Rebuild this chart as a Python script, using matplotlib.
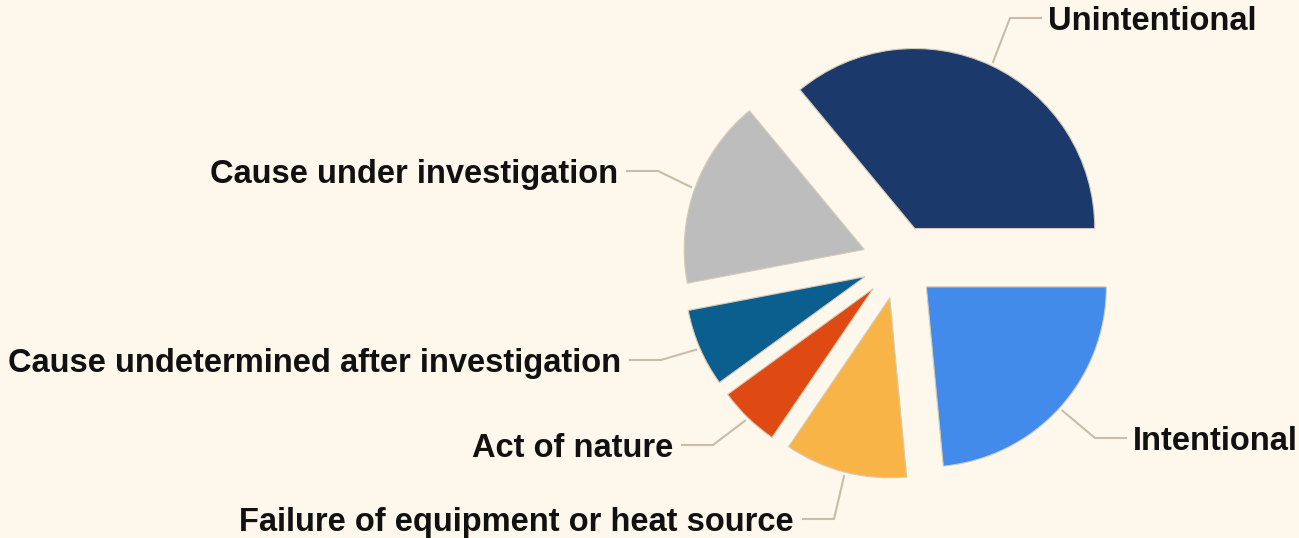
import numpy as np
import matplotlib.pyplot as plt

# === Data ===
causes = ["Unintentional", "Cause under investigation",
          "Cause undetermined after investigation", "Act of nature",
          "Failure of equipment or heat source", "Intentional"]
shares = [36.0, 17.0, 7.0, 5.5, 11.0, 23.5]
colors = ["#1b3a6b", "#bdbdbd", "#0b5f8f", "#df4a12", "#f8b447", "#428beb"]

# label layout (pixel coords, y measured from top), alignment
label_pos = [(1048, 30, "left"), (618, 183, "right"), (621, 372, "right"),
             (673, 457, "right"), (794, 531, "right"), (1133, 450, "left")]

bg = "#fdf7ec"
line_col = "#c9bca8"
W, H = 1299, 538
cx, cy, r, expl = 899, H - 262, 180, 37

plt.rcParams['font.family'] = ['Liberation Sans', 'DejaVu Sans']

fig = plt.figure(figsize=(W / 100, H / 100), dpi=100, facecolor=bg)
ax = fig.add_axes([0, 0, 1, 1])
ax.set_facecolor(bg)

ax.pie(shares, colors=colors, startangle=0, counterclock=True,
       center=(cx, cy), radius=r, explode=[expl] * len(shares),
       wedgeprops=dict(edgecolor="#d6cab6", linewidth=0.8))
ax.set_xlim(0, W)
ax.set_ylim(0, H)
ax.set_aspect("equal")
ax.set_axis_off()

# === Labels with leader lines ===
cum = np.cumsum([0] + shares)
total = sum(shares)
for i, name in enumerate(causes):
    mid = np.deg2rad((cum[i] + cum[i + 1]) / 2 / total * 360)
    d = np.array([np.cos(mid), np.sin(mid)])
    p = np.array([cx, cy]) + d * (expl + r + 3)
    tx, ty, ha = label_pos[i]
    ty = H - ty
    ly = ty + 12
    if ha == "left":
        xs = [p[0], tx - 38, tx - 6]
    else:
        xs = [p[0], tx + 40, tx + 8]
    ax.plot(xs, [p[1], ly, ly], color=line_col, lw=1.5, solid_capstyle="butt")
    ax.text(tx, ty, name, ha=ha, va="baseline", fontsize=23.5,
            fontweight="bold", color="#111111")

fig.savefig("out.png", dpi=100, facecolor=bg)
